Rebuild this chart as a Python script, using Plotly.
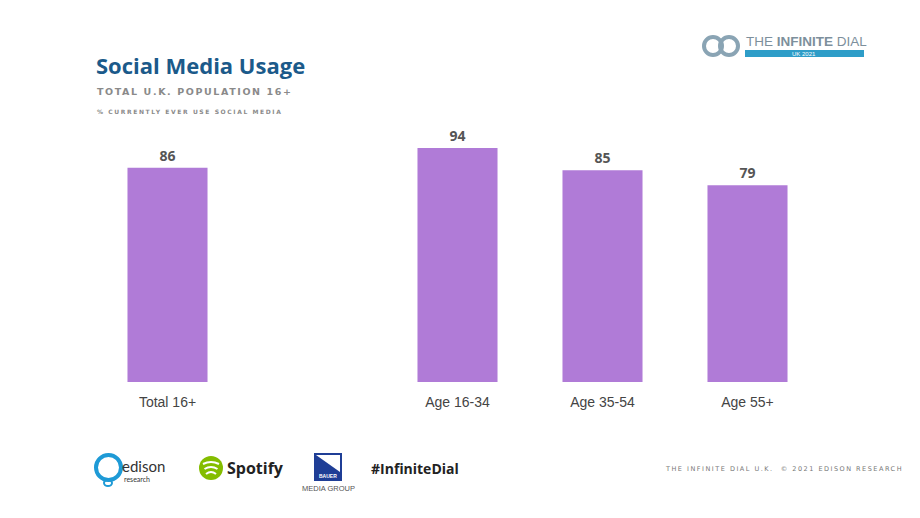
import plotly.graph_objects as go

categories = ["Total 16+", "Age 16-34", "Age 35-54", "Age 55+"]
positions = [0, 2, 3, 4]
values = [86, 94, 85, 79]

BAR = "#B07BD7"
W, H = 920, 518
L, R, T, B = 95, 100, 133, 136
PW, PH = W - L - R, H - T - B

def px(x):
    return (x - L) / PW

def py(y):
    return (H - B - y) / PH

fig = go.Figure()
fig.add_trace(go.Bar(
    x=positions, y=values, width=0.552,
    marker=dict(color=BAR, line=dict(width=0)),
    text=["<b>%d</b>" % v for v in values], textposition="outside",
    textfont=dict(family="Open Sans", size=14, color="#555555"),
    cliponaxis=False, hoverinfo="skip",
))

ann = []
shapes = []

def text(x, y, s, size, color, family="Open Sans", anchor="left", yanchor="middle", **kw):
    ann.append(dict(x=px(x), y=py(y), xref="paper", yref="paper", text=s, showarrow=False,
                    xanchor=anchor, yanchor=yanchor,
                    font=dict(size=size, color=color, family=family), **kw))

def spaced(s, sp):
    return '<span style="letter-spacing:%spx">%s</span>' % (sp, s)

# Titles
text(94, 65, "<b>Social Media Usage</b>", 22, "#1B5A8A")
text(95, 92, "<b>" + spaced("TOTAL U.K. POPULATION 16+", 1.6) + "</b>", 9.5, "#8a8a8a", family="DejaVu Sans")
text(95, 111, "<b>" + spaced("% CURRENTLY EVER USE SOCIAL MEDIA", 1.6) + "</b>", 6, "#8a8a8a", family="DejaVu Sans")

# Top-right logo
for cx in (713, 729):
    shapes.append(dict(type="circle", xref="paper", yref="paper",
                       x0=px(cx - 9), x1=px(cx + 9), y0=py(37), y1=py(55),
                       line=dict(color="#8aa4b4", width=4)))
text(744, 42, "THE <b>INFINITE</b> DIAL", 13.5, "#7d8f9c", family="Liberation Sans")
shapes.append(dict(type="rect", xref="paper", yref="paper",
                   x0=px(745), x1=px(864), y0=py(50), y1=py(57),
                   fillcolor="#2E9DC8", line=dict(width=0)))
text(804, 53.5, "UK 2021", 6, "#ffffff", anchor="center", family="Liberation Sans")

# Bottom logos
shapes.append(dict(type="circle", xref="paper", yref="paper",
                   x0=px(96), x1=px(121), y0=py(455), y1=py(480),
                   line=dict(color="#1E9AD6", width=4)))
shapes.append(dict(type="circle", xref="paper", yref="paper",
                   x0=px(104), x1=px(112), y0=py(480), y1=py(486),
                   line=dict(color="#1E9AD6", width=2)))
text(120, 466, "edison", 15, "#333333", family="Lato")
text(122, 479, "research", 7, "#333333", family="Lato")

shapes.append(dict(type="circle", xref="paper", yref="paper",
                   x0=px(199), x1=px(223), y0=py(456), y1=py(480),
                   fillcolor="#84BD00", line=dict(width=0)))
for i, yy in enumerate((463, 468, 473)):
    w = 8 - i * 1.5
    shapes.append(dict(type="path", xref="paper", yref="paper",
                       path=f"M {px(211 - w)} {py(yy + 1)} Q {px(211)} {py(yy - 3)} {px(211 + w)} {py(yy + 1)}",
                       line=dict(color="#ffffff", width=2)))
text(225, 468, "<b>Spotify</b>", 16, "#222222", family="Open Sans")

shapes.append(dict(type="rect", xref="paper", yref="paper",
                   x0=px(314), x1=px(342), y0=py(453), y1=py(481),
                   fillcolor="#1F3E96", line=dict(width=0)))
shapes.append(dict(type="path", xref="paper", yref="paper",
                   path=f"M {px(316)} {py(455)} L {px(340)} {py(455)} L {px(340)} {py(472)} Z",
                   fillcolor="#ffffff", line=dict(width=0)))
text(328, 476, "<b>BAUER</b>", 5, "#ffffff", anchor="center", family="Liberation Sans")
text(328, 488, "MEDIA GROUP", 7.5, "#555555", anchor="center", family="Liberation Sans")

text(369, 468, "<b>#InfiniteDial</b>", 14, "#222222", family="Open Sans")

text(905, 469, spaced("THE INFINITE DIAL U.K.  © 2021 EDISON RESEARCH", 1.5), 6.5, "#777777",
     anchor="right", family="DejaVu Sans")

fig.update_layout(
    width=W, height=H, margin=dict(l=L, r=R, t=T, b=B, pad=0),
    paper_bgcolor="white", plot_bgcolor="white", showlegend=False,
    xaxis=dict(range=[-0.5, 4.5], tickvals=positions, ticktext=categories,
               showgrid=False, zeroline=False, showline=False, ticks="",
               ticklabelstandoff=10,
               tickfont=dict(family="Liberation Sans", size=14, color="#444444"), fixedrange=True),
    yaxis=dict(range=[0, 100], visible=False, fixedrange=True),
    annotations=ann, shapes=shapes,
)
fig.write_html("out.html")
